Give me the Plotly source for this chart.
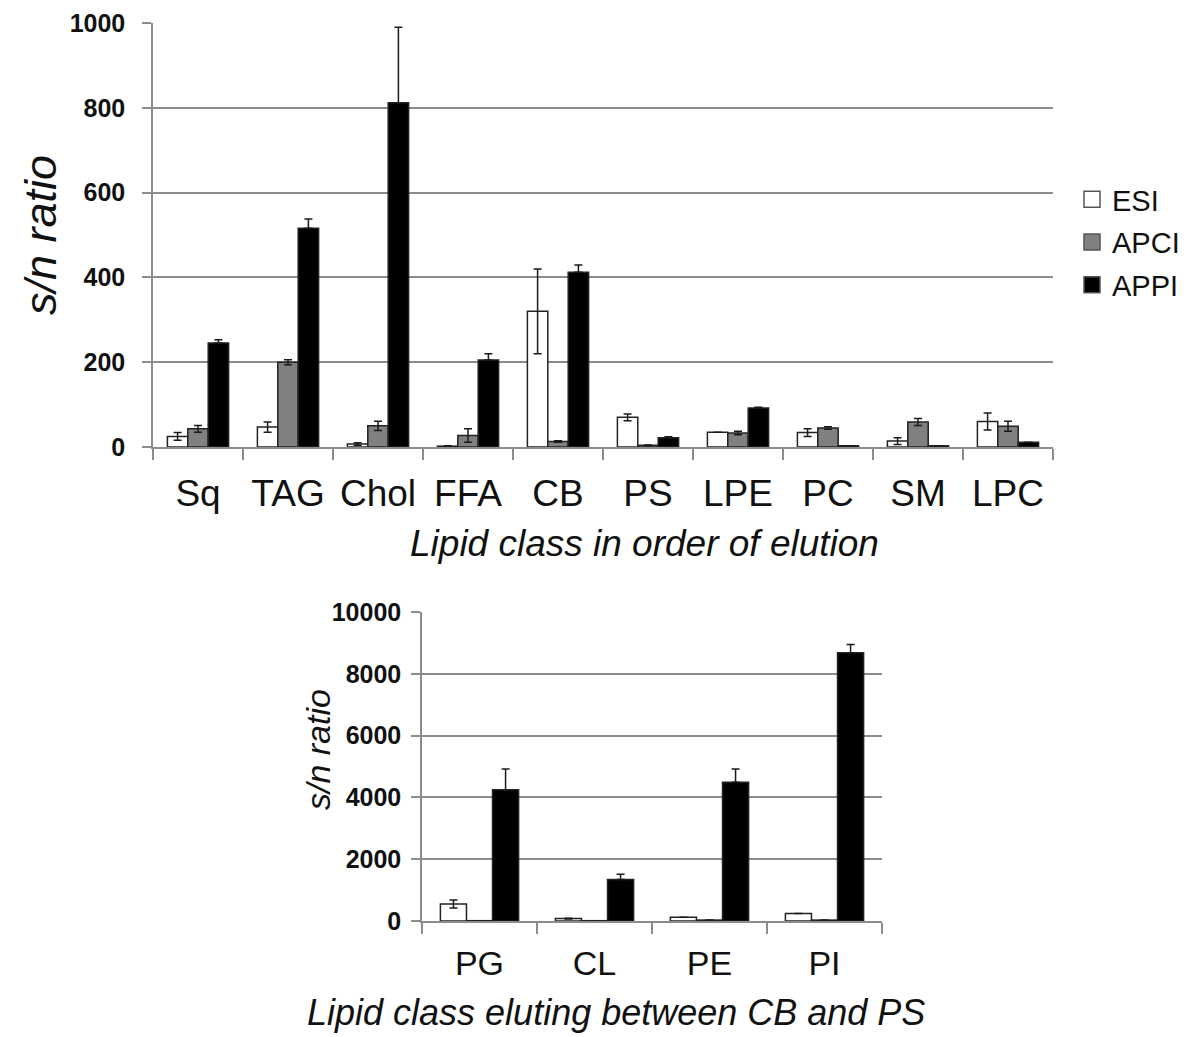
import plotly.graph_objects as go

# ---------------- data ----------------
categories_top = ["Sq", "TAG", "Chol", "FFA", "CB", "PS", "LPE", "PC", "SM", "LPC"]
esi_top = [25, 47, 7, 2, 320, 70, 35, 34, 14, 60]
esi_top_err = [9, 12, 3, 1, 100, 8, 0, 9, 8, 20]
apci_top = [43, 200, 50, 27, 13, 4, 33, 45, 59, 49]
apci_top_err = [8, 6, 11, 16, 2, 1, 4, 3, 8, 12]
appi_top = [245, 516, 812, 205, 412, 22, 92, 3, 3, 11]
appi_top_err = [8, 22, 178, 15, 17, 2, 2, 0, 0, 0]

categories_bottom = ["PG", "CL", "PE", "PI"]
esi_bot = [550, 77, 120, 240]
esi_bot_err = [130, 15, 0, 0]
apci_bot = [10, 10, 30, 30]
apci_bot_err = [0, 0, 0, 0]
appi_bot = [4250, 1340, 4490, 8680]
appi_bot_err = [670, 175, 430, 270]

series_names = ["ESI", "APCI", "APPI"]
series_colors = ["#ffffff", "#808080", "#000000"]

top_ticks = [0, 200, 400, 600, 800, 1000]
top_tick_text = ["0", "200", "400", "600", "800", "1000"]
bottom_ticks = [0, 2000, 4000, 6000, 8000, 10000]
bottom_tick_text = ["0", "2000", "4000", "6000", "8000", "10000"]

FONT = "Liberation Sans, Arial, Helvetica, sans-serif"
W, H = 1190, 1037
GRID = "#8c8c8c"
OUTLINE = "#222222"


def err(arr, upper_only=False):
    d = dict(type="data", array=arr, visible=True, color="#1a1a1a",
             thickness=1.5, width=4)
    if upper_only:
        d["symmetric"] = False
        d["arrayminus"] = [0] * len(arr)
    return d


fig = go.Figure()

top_sets = [(esi_top, esi_top_err), (apci_top, apci_top_err), (appi_top, appi_top_err)]
bot_sets = [(esi_bot, esi_bot_err), (apci_bot, apci_bot_err), (appi_bot, appi_bot_err)]

for i, (name, col, (v, e)) in enumerate(zip(series_names, series_colors, top_sets)):
    fig.add_trace(go.Bar(x=categories_top, y=v, name=name, error_y=err(e, i == 2),
                         marker=dict(color=col, line=dict(color=OUTLINE, width=1.5)),
                         xaxis="x", yaxis="y", showlegend=False))

for i, (name, col, (v, e)) in enumerate(zip(series_names, series_colors, bot_sets)):
    fig.add_trace(go.Bar(x=categories_bottom, y=v, name=name, error_y=err(e, i == 2),
                         marker=dict(color=col, line=dict(color=OUTLINE, width=1.5)),
                         xaxis="x2", yaxis="y2", showlegend=False))

# legend entries
for name, col in zip(series_names, series_colors):
    fig.add_trace(go.Scatter(x=[None], y=[None], mode="markers", name=name,
                             legendgroup=name,
                             marker=dict(symbol="square", size=16, color=col,
                                         line=dict(color="#555555", width=1.5)),
                             xaxis="x", yaxis="y", showlegend=True))


def xaxis_style(domain, anchor, size, standoff):
    return dict(domain=domain, anchor=anchor, type="category", tickson="boundaries",
                ticks="outside", ticklen=11, tickwidth=1.5, tickcolor=GRID,
                showline=True, linecolor=GRID, linewidth=1.5, showgrid=False,
                tickfont=dict(size=size, color="#111"), ticklabelstandoff=standoff,
                automargin=False, fixedrange=True)


def yaxis_style(domain, anchor, rng, ticks, text, size, standoff):
    return dict(domain=domain, anchor=anchor, range=rng, tickmode="array",
                tickvals=ticks, ticktext=text,
                ticks="outside", ticklen=9, tickwidth=1.5, tickcolor=GRID,
                showline=True, linecolor=GRID, linewidth=1.5,
                showgrid=True, gridcolor=GRID, gridwidth=1.5, zeroline=False,
                tickfont=dict(size=size, color="#111", family="Liberation Sans, Arial", weight="bold"),
                ticklabelstandoff=standoff, automargin=False, fixedrange=True)


fig.update_layout(
    width=W, height=H, margin=dict(l=0, r=0, t=0, b=0, pad=0, autoexpand=False),
    paper_bgcolor="white", plot_bgcolor="white",
    barmode="group", bargap=0.32, bargroupgap=0,
    font=dict(family=FONT, color="#111"),
    xaxis=xaxis_style([153 / W, 1053 / W], "y", 37, 13),
    yaxis=yaxis_style([1 - 447 / H, 1 - 23 / H], "x", [0, 1000], top_ticks, top_tick_text, 25, 12),
    xaxis2=xaxis_style([422 / W, 882 / W], "y2", 34, 11),
    yaxis2=yaxis_style([1 - 921 / H, 1 - 612 / H], "x2", [0, 10000], bottom_ticks, bottom_tick_text, 25, 5),
    legend=dict(x=1072 / W, y=1 - 174 / H, xanchor="left", yanchor="top",
                font=dict(size=29, color="#111"), bgcolor="rgba(0,0,0,0)",
                traceorder="grouped", tracegroupgap=2, itemsizing="trace"),
)

annots = [
    dict(text="<i>s/n ratio</i>", x=40 / W, y=1 - 235 / H, textangle=-90, size=45, ya="middle"),
    dict(text="<i>Lipid class in order of elution</i>", x=644 / W, y=1 - 543 / H, textangle=0, size=37, ya="middle"),
    dict(text="<i>s/n ratio</i>", x=318 / W, y=1 - 750 / H, textangle=-90, size=34, ya="middle"),
    dict(text="<i>Lipid class eluting between CB and PS</i>", x=616 / W, y=2 / H, textangle=0, size=36, ya="bottom"),
]
for a in annots:
    fig.add_annotation(text=a["text"], x=a["x"], y=a["y"], xref="paper", yref="paper",
                       xanchor="center", yanchor=a["ya"], showarrow=False,
                       textangle=a["textangle"], font=dict(size=a["size"], color="#111"))

fig.write_html("out.html")
